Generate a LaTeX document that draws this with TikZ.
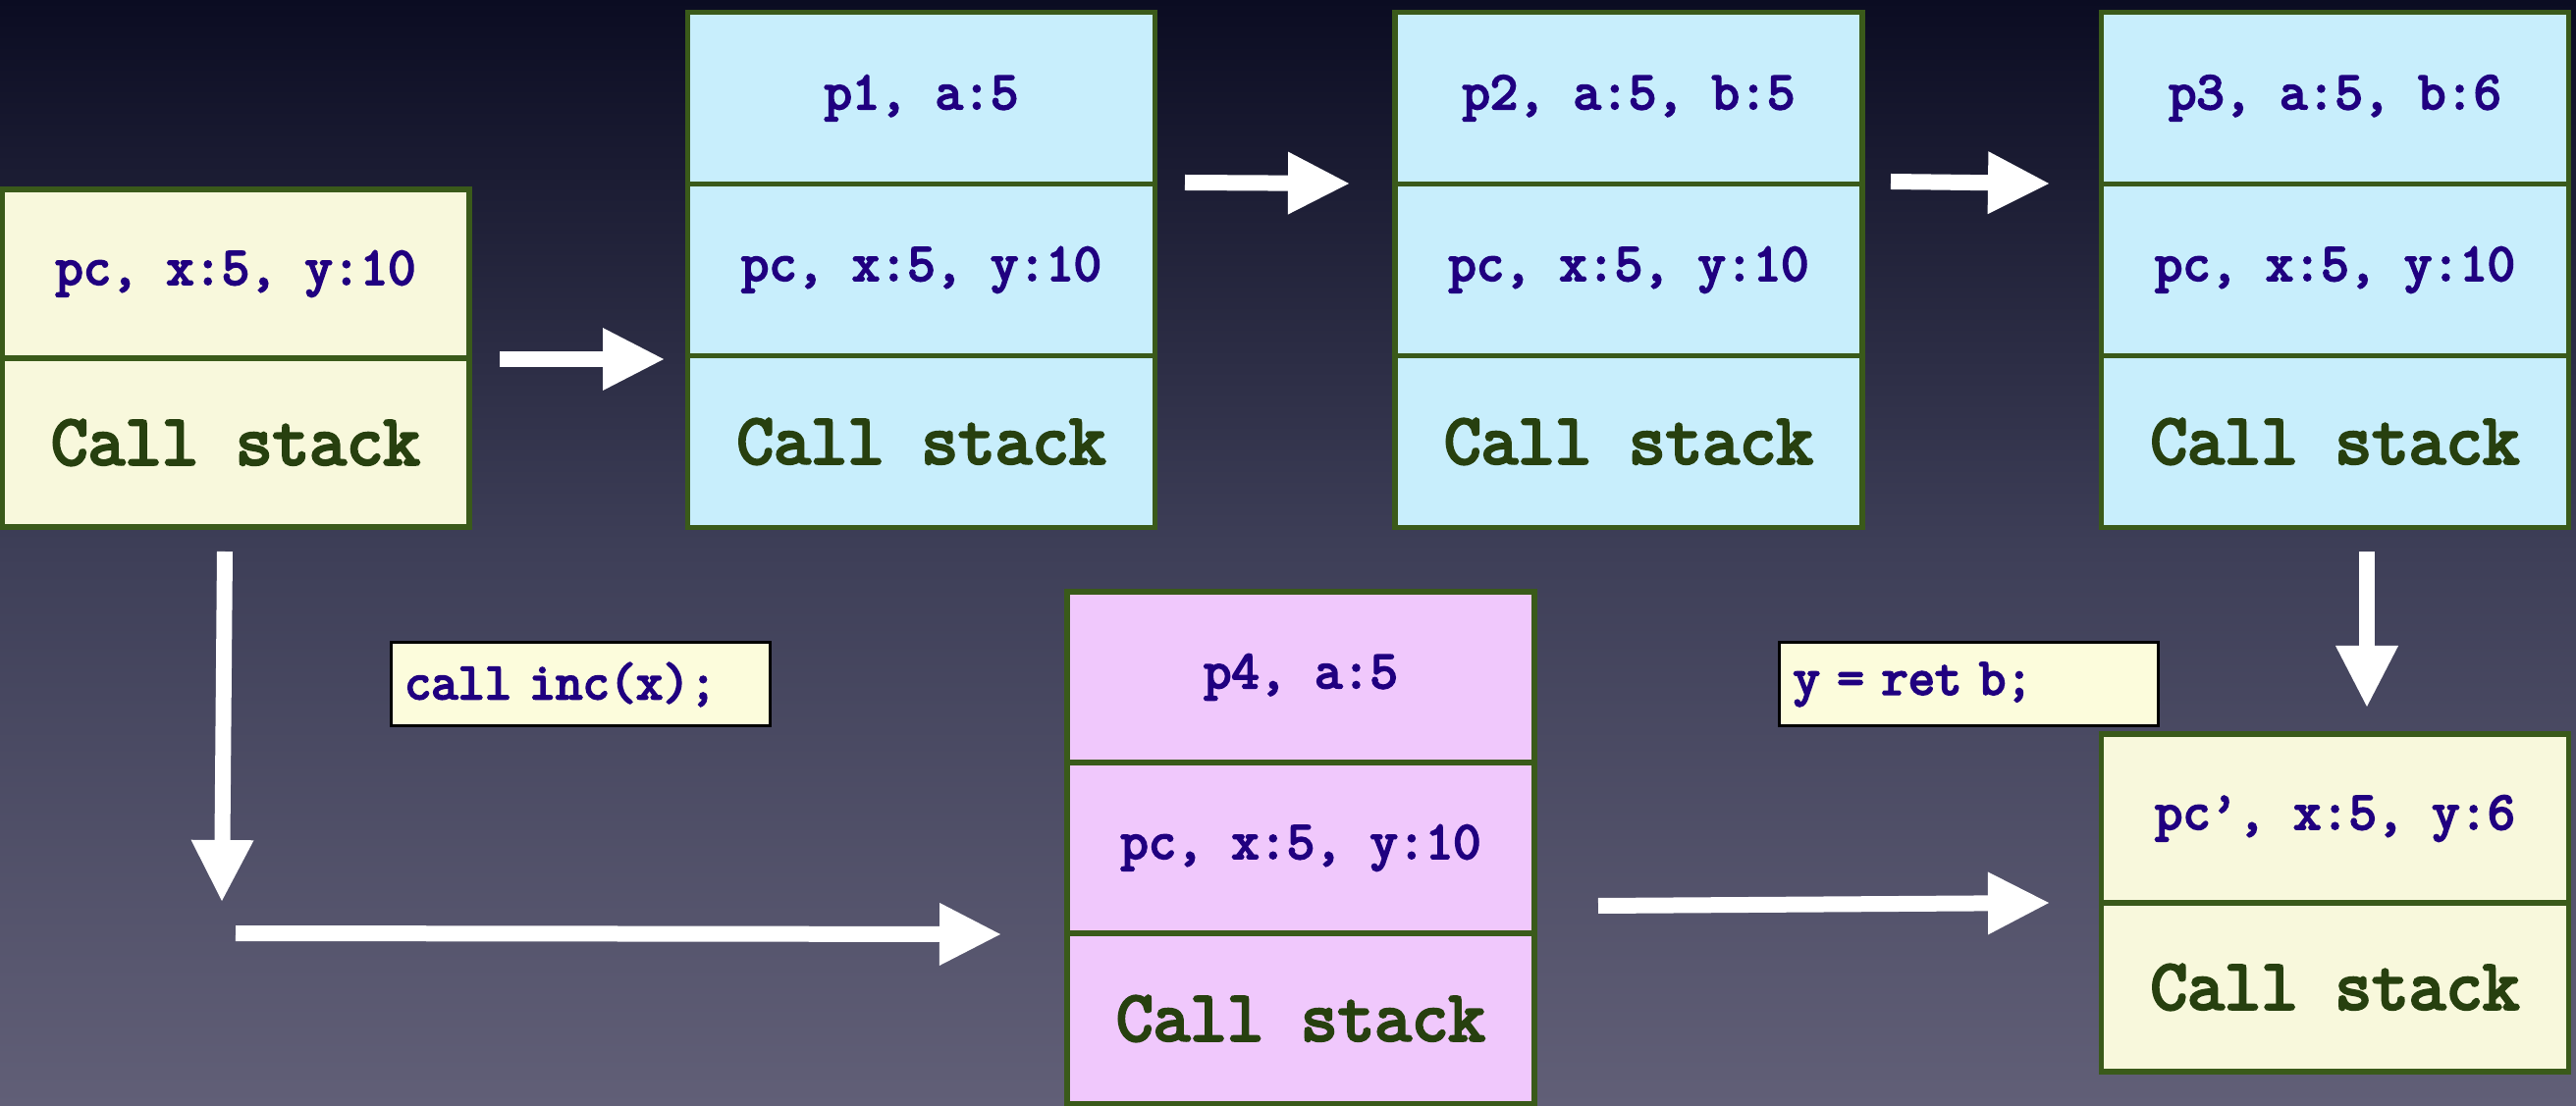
\documentclass[tikz,border=0pt]{standalone}
\usepackage{fontspec}
\newfontfamily\monofont{Latin Modern Mono}[FakeBold=4]
\usetikzlibrary{arrows.meta}
\definecolor{bgtop}{HTML}{0B0C22}
\definecolor{bgmid}{HTML}{3E3F58}
\definecolor{bgbot}{HTML}{615F77}
\definecolor{frameborder}{HTML}{3A5A1A}
\definecolor{fillyellow}{HTML}{F8F8DC}
\definecolor{fillblue}{HTML}{C8EEFC}
\definecolor{fillpink}{HTML}{F0C8FC}
\definecolor{labelfill}{HTML}{FCFCDC}
\definecolor{frametext}{HTML}{200080}
\definecolor{stacktext}{HTML}{27400F}
\tikzset{
  cell/.style={draw=frameborder, line width=2.6pt, minimum width=238pt, inner sep=0pt,
    font=\monofont\fontsize{27.4pt}{30pt}\selectfont, text=frametext},
  yellowcell/.style={cell, fill=fillyellow},
  bluecell/.style={cell, fill=fillblue},
  pinkcell/.style={cell, fill=fillpink},
  stackcell/.style={font=\monofont\fontsize{36.5pt}{40pt}\selectfont, text=stacktext},
  codelabel/.style={draw=black, line width=1.5pt, fill=labelfill, minimum width=193pt,
    minimum height=42.5pt, inner sep=0pt, inner xsep=7pt, text width=179pt, align=left,
    font=\monofont\fontsize{26.5pt}{29pt}\selectfont, text=frametext},
  bigarrow/.style={draw=white, line width=8pt,
    -{Triangle[width=32pt,length=31pt,line width=0pt]}}
}
\begin{document}
\begin{tikzpicture}[x=0.5pt, y=-0.5pt]
\useasboundingbox (0,0) rectangle (2624,1127);
\shade[top color=bgtop, bottom color=bgbot, middle color=bgmid] (0,0) rectangle (2624,1127);

% box 0 (yellow)
\node[yellowcell, minimum height=86pt] (b0a) at (240,279) {pc, x:5, y:10};
\node[yellowcell, stackcell, minimum height=86pt] (b0b) at (240,451) {Call stack};

% box 1
\node[bluecell, minimum height=87.5pt] (b1a) at (938.5,100) {p1, a:5};
\node[bluecell, minimum height=87.5pt] (b1b) at (938.5,275) {pc, x:5, y:10};
\node[bluecell, stackcell, minimum height=87.5pt] (b1c) at (938.5,450) {Call stack};

% box 2
\node[bluecell, minimum height=87.5pt] (b2a) at (1659,100) {p2, a:5, b:5};
\node[bluecell, minimum height=87.5pt] (b2b) at (1659,275) {pc, x:5, y:10};
\node[bluecell, stackcell, minimum height=87.5pt] (b2c) at (1659,450) {Call stack};

% box 3
\node[bluecell, minimum height=87.5pt] (b3a) at (2378.5,100) {p3, a:5, b:6};
\node[bluecell, minimum height=87.5pt] (b3b) at (2378.5,275) {pc, x:5, y:10};
\node[bluecell, stackcell, minimum height=87.5pt] (b3c) at (2378.5,450) {Call stack};

% box 4 (pink)
\node[pinkcell, minimum height=87pt] (b4a) at (1325,690) {p4, a:5};
\node[pinkcell, minimum height=87pt] (b4b) at (1325,864) {pc, x:5, y:10};
\node[pinkcell, stackcell, minimum height=87pt] (b4c) at (1325,1038) {Call stack};

% box 5 (yellow)
\node[yellowcell, minimum height=86pt] (b5a) at (2378.5,834) {pc’, x:5, y:6};
\node[yellowcell, stackcell, minimum height=86pt] (b5b) at (2378.5,1006) {Call stack};

% code labels
\node[codelabel] (lcall) at (591,697.5) {call inc(x);};
\node[codelabel] (lret) at (2005.5,697.5) {y = ret b;};

% arrows
\coordinate (a0s) at (509,366);
\coordinate (a0e) at (676,366);
\coordinate (a1s) at (1207,186);
\coordinate (a1e) at (1374,187);
\coordinate (a2s) at (1926,185);
\coordinate (a2e) at (2087,187);
\coordinate (a3s) at (2411,562);
\coordinate (a3e) at (2411,720);
\coordinate (a4s) at (229,562);
\coordinate (a4e) at (226,918);
\coordinate (a5s) at (240,951);
\coordinate (a5e) at (1019,952);
\coordinate (a6s) at (1628,923);
\coordinate (a6e) at (2087,920);

\draw[bigarrow] (a0s) -- (a0e);
\draw[bigarrow] (a1s) -- (a1e);
\draw[bigarrow] (a2s) -- (a2e);
\draw[bigarrow] (a3s) -- (a3e);
\draw[bigarrow] (a4s) -- (a4e);
\draw[bigarrow] (a5s) -- (a5e);
\draw[bigarrow] (a6s) -- (a6e);
\end{tikzpicture}
\end{document}
